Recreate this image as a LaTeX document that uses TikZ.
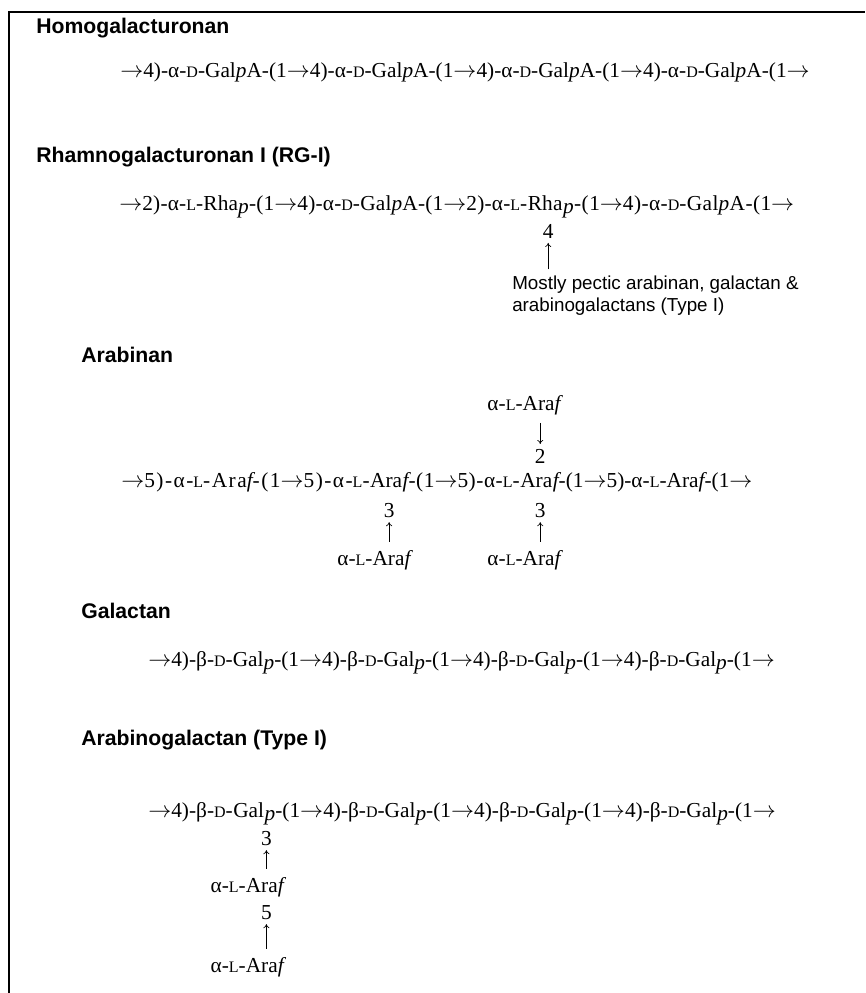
\documentclass[tikz,border=0pt]{standalone}
\usepackage{fontspec}
\setmainfont{Liberation Serif}
\newfontfamily\headfont{Liberation Sans}
\usetikzlibrary{positioning,calc,arrows.meta}

% small capitals for the D/L prefixes, italic ring letters, glycosidic arrow
\newcommand{\sD}{{\fontsize{12}{12}\selectfont D}}
\newcommand{\sL}{{\fontsize{12}{12}\selectfont L}}
\newcommand{\ip}{\textit{p}}
\newcommand{\lp}{\raisebox{-2.5pt}{\textit{p}}}
\newcommand{\fu}{\textit{f}}
\newcommand{\fh}{{\itshape f}}
\newcommand{\rarr}{\ensuremath{\rightarrow}}

\tikzset{
  heading/.style={anchor=base west, inner sep=0pt,
    font=\headfont\bfseries\fontsize{15.9}{18}\selectfont},
  chain/.style={anchor=base west, inner sep=0pt,
    font=\fontsize{16}{18}\selectfont},
  part/.style={chain},
  tracked/.style={font=\fontsize{16}{18}\selectfont\addfontfeature{LetterSpace=#1}},
  link/.style={anchor=base, inner sep=0pt,
    font=\fontsize{16}{18}\selectfont},
  note/.style={anchor=base west, inner sep=0pt, align=left,
    font=\headfont\fontsize{14.1}{15.8}\selectfont},
  conn/.style={-{To[length=3pt,width=4.5pt]}, line width=0.5pt,
    shorten >=3.5pt, shorten <=6pt}
}

\begin{document}
\begin{tikzpicture}[x=0.75pt,y=-0.75pt]
\useasboundingbox (0,0) rectangle (865,993);

% frame (open on the right and at the bottom)
\draw[line width=1.1pt] (9,993) -- (9,12) -- (865,12);

% Homogalacturonan
\node[heading] (hgtitle) at (36,33) {Homogalacturonan};
\node[chain] (hg) at (120,77)
  {\rarr4)-α-\sD-Gal\ip A-(1\rarr4)-α-\sD-Gal\ip A-(1\rarr4)-α-\sD-Gal\ip A-(1\rarr4)-α-\sD-Gal\ip A-(1\rarr};

% Rhamnogalacturonan I with its side chains
\node[heading] (rgtitle) at (36,162) {Rhamnogalacturonan I (RG-I)};
\node[chain, tracked=1] (rga) at (119,210)
  {\rarr2)-α-\sL-Rha\lp-(1\rarr4)-α-\sD-Gal\ip A-(1\rarr2)-α-\sL-};
\node[part, tracked=1, base right=0pt of rga] (rgb) {Rha};
\node[part, tracked=2, base right=0pt of rgb] (rgc) {\lp-(1\rarr4)-α-\sD-Gal\ip A-(1\rarr};
\node[link] (rgn) at ($(rgb.base)+(3,28)$) {4};
\node[note] (rgnote) at (512,311)
  {Mostly pectic arabinan, galactan \&\\arabinogalactans (Type I)};
\draw[conn, shorten <=5pt] (rgn.south |- rgnote.north) -- (rgn.south);

% Arabinan
\node[heading] (arbtitle) at (81,362) {Arabinan};
\node[chain, tracked=7] (arb1) at (121,487) {\rarr5)-α-\sL-Ara\fh-(1\rarr5)-α-\sL-};
\node[part, base right=0pt of arb1] (arb2) {Ara};
\node[part, tracked=2.5, base right=0pt of arb2] (arb3) {\fh-(1\rarr5)-α-\sL-};
\node[part, base right=0pt of arb3] (arb4) {Ara};
\node[part, base right=0pt of arb4] (arb5) {\fh-(1\rarr5)-α-\sL-Ara\fh-(1\rarr};
\node[link] (arbn1) at ($(arb2.base)+(3,30)$) {3};
\node[link] (arbn2) at ($(arb4.base)+(4,30)$) {3};
\node[link] (arbn3) at ($(arb4.base)+(4,-24)$) {2};
\node[link] (arbs1) at ($(arbn1.base)+(-14,48)$) {α-\sL-Ara\fu};
\node[link] (arbs2) at ($(arbn2.base)+(-15,48)$) {α-\sL-Ara\fu};
\node[link] (arbs3) at ($(arbn3.base)+(-15,-53)$) {α-\sL-Ara\fu};
\draw[conn] (arbs1.north -| arbn1) -- (arbn1.south);
\draw[conn] (arbs2.north -| arbn2) -- (arbn2.south);
\draw[conn] (arbs3.south -| arbn3) -- (arbn3.north);

% Galactan
\node[heading] (galtitle) at (81,618) {Galactan};
\node[chain] (gal) at (148,666)
  {\rarr4)-β-\sD-Gal\lp-(1\rarr4)-β-\sD-Gal\lp-(1\rarr4)-β-\sD-Gal\lp-(1\rarr4)-β-\sD-Gal\lp-(1\rarr};

% Arabinogalactan (Type I)
\node[heading] (agtitle) at (81,745) {Arabinogalactan (Type I)};
\node[chain] (ag1) at (148,817) {\rarr4)-β-\sD-};
\node[part, base right=0pt of ag1] (ag2) {Gal};
\node[part, base right=0pt of ag2] (ag3)
  {\lp-(1\rarr4)-β-\sD-Gal\lp-(1\rarr4)-β-\sD-Gal\lp-(1\rarr4)-β-\sD-Gal\lp-(1\rarr};
\node[link] (agn1) at ($(ag2.base east)+(2,28)$) {3};
\node[link] (ags1) at ($(agn1.base)+(-18,47)$) {α-\sL-Ara\fu};
\node[link] (agn2) at ($(ags1.base)+(18,27)$) {5};
\node[link] (ags2) at ($(agn2.base)+(-18,53)$) {α-\sL-Ara\fu};
\draw[conn] (ags1.north -| agn1) -- (agn1.south);
\draw[conn] (ags2.north -| agn2) -- (agn2.south);
\end{tikzpicture}
\end{document}
